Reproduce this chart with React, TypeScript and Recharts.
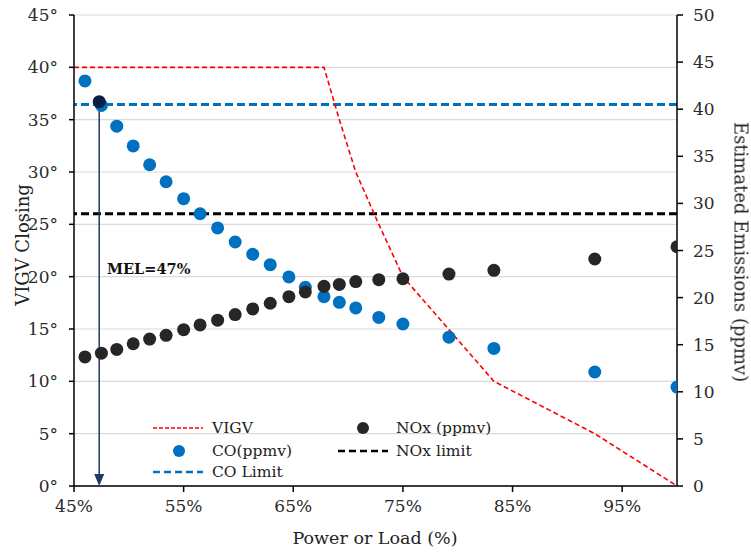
import React from "react";
import {
  ComposedChart,
  Line,
  Scatter,
  XAxis,
  YAxis,
  CartesianGrid,
  ReferenceLine,
} from "recharts";

// load points (% of power) shared by both emission series
const loadPct = [46.0, 47.5, 48.9, 50.4, 51.9, 53.4, 55.0, 56.5, 58.1, 59.7, 61.3, 62.9, 64.6, 66.1, 67.8, 69.2, 70.7, 72.8, 75.0, 79.2, 83.3, 92.5, 100];
const coPpmv = [43.0, 40.4, 38.2, 36.1, 34.1, 32.3, 30.5, 28.9, 27.4, 25.9, 24.6, 23.5, 22.2, 21.1, 20.1, 19.5, 18.9, 17.9, 17.2, 15.8, 14.6, 12.1, 10.5];
const noxPpmv = [13.7, 14.1, 14.5, 15.1, 15.6, 16.0, 16.6, 17.1, 17.6, 18.2, 18.8, 19.4, 20.1, 20.6, 21.2, 21.4, 21.7, 21.9, 22.0, 22.5, 22.9, 24.1, 25.4];

// VIGV closing schedule (degrees)
const vigvLoad = [45, 67.8, 69.2, 70.7, 72.8, 75, 83.3, 92.5, 100];
const vigvDeg = [40, 40, 35, 30, 25, 20, 10, 5, 0];

const coLimit = 40.5;
const noxLimit = 28.9;
const melLoad = 47.3;
const melNox = 40.8;

const xTicks = [45, 55, 65, 75, 85, 95];
const degTicks = [0, 5, 10, 15, 20, 25, 30, 35, 40, 45];
const ppmTicks = [0, 5, 10, 15, 20, 25, 30, 35, 40, 45, 50];

const coData = loadPct.map((x, i) => ({ x, y: coPpmv[i] }));
const noxData = loadPct.map((x, i) => ({ x, y: noxPpmv[i] }));
const vigvData = vigvLoad.map((x, i) => ({ x, y: vigvDeg[i] }));
const melPoint = [{ x: melLoad, y: melNox }];
const melArrow = [{ x: melLoad, y: 0 }];

const FONT = '"DejaVu Serif", serif';
const BLUE = "#0070c0";
const DARK = "#262626";
const NAVY = "#203864";

const tickStyle = { fontSize: 17, fill: "#2a2a2a", fontFamily: FONT };

const Dot = (color: string) => (props: any) => (
  <circle cx={props.cx} cy={props.cy} r={6.5} fill={color} />
);

const Arrow = (props: any) => (
  <path
    d={`M${props.cx - 5},${props.cy - 12} L${props.cx + 5},${props.cy - 12} L${props.cx},${props.cy} Z`}
    fill={NAVY}
  />
);

function LegendBox() {
  const txt: React.CSSProperties = {
    position: "absolute",
    fontFamily: FONT,
    fontSize: 15.5,
    color: "#222",
    lineHeight: "18px",
    whiteSpace: "nowrap",
  };
  const sw = (left: number, top: number, el: React.ReactNode) => (
    <svg style={{ position: "absolute", left, top }} width={52} height={12}>
      {el}
    </svg>
  );
  return (
    <>
      {sw(152, 422, <line x1={1} y1={6} x2={51} y2={6} stroke="#ff0000" strokeWidth={1.6} strokeDasharray="4 2" />)}
      <div style={{ ...txt, left: 212, top: 419 }}>VIGV</div>
      {sw(338, 422, <circle cx={25} cy={6} r={6} fill={DARK} />)}
      <div style={{ ...txt, left: 396, top: 419 }}>NOx (ppmv)</div>
      {sw(153, 445, <circle cx={26} cy={6} r={6} fill={BLUE} />)}
      <div style={{ ...txt, left: 212, top: 442 }}>CO(ppmv)</div>
      {sw(337, 445, <line x1={1} y1={6} x2={51} y2={6} stroke="#000" strokeWidth={2.5} strokeDasharray="7 4" />)}
      <div style={{ ...txt, left: 396, top: 442 }}>NOx limit</div>
      {sw(152, 466, <line x1={1} y1={6} x2={51} y2={6} stroke={BLUE} strokeWidth={2.5} strokeDasharray="7 4" />)}
      <div style={{ ...txt, left: 212, top: 463 }}>CO Limit</div>
    </>
  );
}

export default function App() {
  return (
    <div style={{ position: "fixed", left: 0, top: 0, width: 751, height: 552, background: "#fff" }}>
      <ComposedChart
        width={751}
        height={552}
        margin={{ top: 15, right: 24, bottom: 16, left: 14 }}
      >
        <CartesianGrid yAxisId="left" vertical={false} stroke="#d9d9d9" strokeWidth={1.2} />
        <XAxis
          type="number"
          dataKey="x"
          domain={[45, 100]}
          ticks={xTicks}
          tickFormatter={(v) => `${v}%`}
          tick={tickStyle}
          stroke="#000"
          strokeWidth={1.5}
          tickSize={6}
          tickMargin={8}
          height={50}
          allowDataOverflow
        />
        <YAxis
          yAxisId="left"
          type="number"
          domain={[0, 45]}
          ticks={degTicks}
          tickFormatter={(v) => `${v}°`}
          tick={tickStyle}
          stroke="#000"
          strokeWidth={1.5}
          tickSize={5}
          tickMargin={11}
          width={60}
        />
        <YAxis
          yAxisId="right"
          orientation="right"
          type="number"
          domain={[0, 50]}
          ticks={ppmTicks}
          tick={tickStyle}
          stroke="#000"
          strokeWidth={1.5}
          tickSize={6}
          tickMargin={10}
          width={50}
        />
        <Scatter yAxisId="right" data={coData} dataKey="y" shape={Dot(BLUE)} isAnimationActive={false} />
        <Scatter yAxisId="right" data={noxData} dataKey="y" shape={Dot(DARK)} isAnimationActive={false} />
        <ReferenceLine yAxisId="right" y={coLimit} stroke={BLUE} strokeWidth={3} strokeDasharray="8 4" />
        <ReferenceLine yAxisId="right" y={noxLimit} stroke="#000" strokeWidth={3} strokeDasharray="8 4" />
        <Line
          yAxisId="left"
          data={vigvData}
          dataKey="y"
          type="linear"
          stroke="#ff0000"
          strokeWidth={1.6}
          strokeDasharray="5 3"
          dot={false}
          isAnimationActive={false}
        />
        <ReferenceLine
          yAxisId="right"
          segment={[{ x: melLoad, y: melNox }, { x: melLoad, y: 1 }]}
          stroke={NAVY}
          strokeWidth={1.5}
        />
        <Scatter yAxisId="right" data={melArrow} dataKey="y" shape={Arrow} isAnimationActive={false} />
        <Scatter yAxisId="right" data={melPoint} dataKey="y" shape={Dot("#0b1d45")} isAnimationActive={false} />
      </ComposedChart>
      <LegendBox />
      <div
        style={{
          position: "absolute",
          left: 107,
          top: 260,
          fontFamily: FONT,
          fontWeight: "bold",
          fontSize: 14.5,
          color: "#111",
        }}
      >
        MEL=47%
      </div>
      <div
        style={{
          position: "absolute",
          left: 22,
          top: 245,
          transform: "translate(-50%, -50%) rotate(-90deg)",
          fontFamily: FONT,
          fontSize: 18,
          color: "#222",
          whiteSpace: "nowrap",
        }}
      >
        VIGV Closing
      </div>
      <div
        style={{
          position: "absolute",
          left: 741,
          top: 252,
          transform: "translate(-50%, -50%) rotate(90deg)",
          fontFamily: FONT,
          fontSize: 18,
          color: "#222",
          whiteSpace: "nowrap",
        }}
      >
        Estimated Emissions (ppmv)
      </div>
      <div
        style={{
          position: "absolute",
          left: 375,
          top: 538,
          transform: "translate(-50%, -50%)",
          fontFamily: FONT,
          fontSize: 17.5,
          color: "#222",
          whiteSpace: "nowrap",
        }}
      >
        Power or Load (%)
      </div>
    </div>
  );
}
